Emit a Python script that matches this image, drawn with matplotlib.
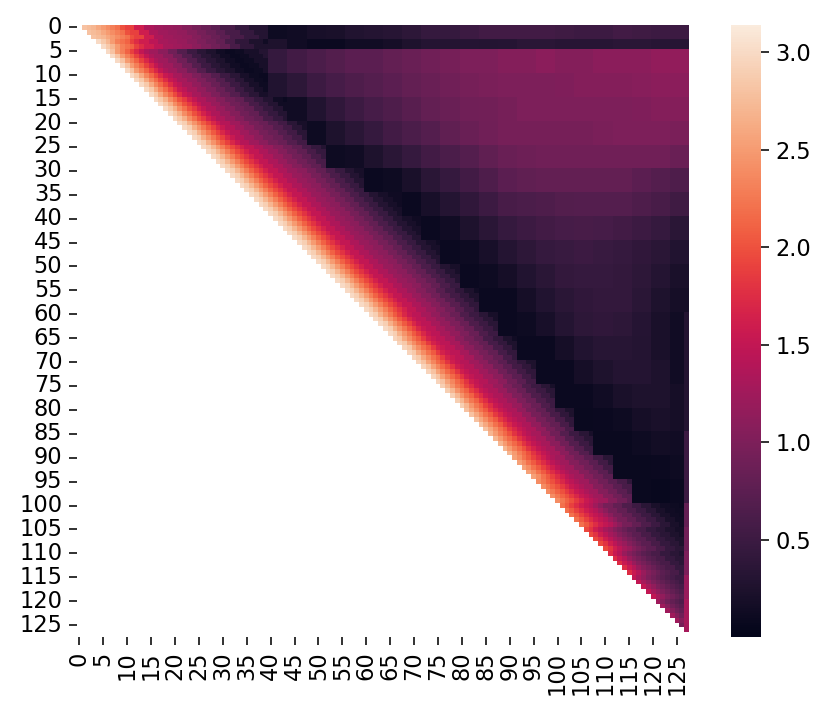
import numpy as np
import matplotlib
matplotlib.use("Agg")
import matplotlib.pyplot as plt
import seaborn as sns

N_CELLS = 128
VMIN = 0.003
VMAX = 3.14

# Colour readings from the picture, in blocks of cells.
# band_rows: first row of each block of rows.
band_rows = [0, 3, 5, 10, 15, 20, 25, 30, 35, 40, 45, 50, 55, 60, 65, 70, 75, 80, 85, 90, 95, 100, 105, 110, 115, 120, 125]

# Near the diagonal: one reading per (column - row) distance band.
band_offsets = [1, 2, 3, 4, 5, 6, 7, 8, 9, 10, 12, 14, 16, 18, 20, 22, 24, 26, 28, 30, 33, 36]
near_readings = [
    [2.8, 2.75, 2.7, 2.6, 2.5, 2.4, 2.3, 2.2, 2.0, 1.9, 1.6, 1.35, 1.25, 1.2, 1.15, 1.05, 0.95, 0.85, 0.75, 0.6, 0.45, 0.3],
    [3.0, 2.85, 2.7, 2.5, 2.3, 2.2, 2.1, 1.9, 1.75, 1.6, 1.45, 1.3, 1.25, 1.2, 1.1, 1.0, 0.9, 0.8, 0.6, 0.4, 0.25, 0.15],
    [3.0, 2.8, 2.5, 2.3, 2.1, 1.9, 1.7, 1.5, 1.35, 1.25, 1.1, 0.9, 0.7, 0.5, 0.35, 0.25, 0.15, 0.1, 0.12, 0.2, 0.3, 0.35],
    [3.0, 2.85, 2.6, 2.35, 2.15, 1.95, 1.75, 1.55, 1.45, 1.3, 1.15, 1.0, 0.85, 0.7, 0.5, 0.35, 0.2, 0.12, 0.1, 0.1, 0.2, 0.3],
    [3.0, 2.85, 2.65, 2.4, 2.2, 2.0, 1.85, 1.65, 1.5, 1.35, 1.2, 1.05, 0.9, 0.8, 0.6, 0.45, 0.3, 0.15, 0.1, 0.12, 0.2, 0.3],
    [3.0, 2.9, 2.65, 2.45, 2.25, 2.05, 1.9, 1.7, 1.55, 1.4, 1.25, 1.1, 0.95, 0.85, 0.7, 0.55, 0.35, 0.2, 0.1, 0.12, 0.2, 0.3],
    [3.0, 2.9, 2.7, 2.5, 2.3, 2.1, 1.95, 1.8, 1.65, 1.5, 1.35, 1.2, 1.05, 0.92, 0.78, 0.6, 0.45, 0.3, 0.18, 0.1, 0.12, 0.2],
    [3.0, 2.9, 2.7, 2.5, 2.3, 2.1, 1.95, 1.8, 1.65, 1.5, 1.35, 1.2, 1.1, 0.95, 0.8, 0.62, 0.47, 0.3, 0.2, 0.12, 0.1, 0.15],
    [3.0, 2.9, 2.7, 2.5, 2.3, 2.1, 1.95, 1.8, 1.65, 1.5, 1.35, 1.2, 1.1, 0.95, 0.8, 0.62, 0.47, 0.3, 0.2, 0.13, 0.1, 0.12],
    [3.0, 2.9, 2.7, 2.5, 2.3, 2.1, 1.95, 1.8, 1.65, 1.5, 1.35, 1.2, 1.1, 0.95, 0.8, 0.62, 0.47, 0.3, 0.2, 0.13, 0.1, 0.12],
    [3.0, 2.9, 2.7, 2.5, 2.3, 2.1, 1.95, 1.8, 1.65, 1.5, 1.35, 1.2, 1.1, 0.95, 0.8, 0.62, 0.47, 0.3, 0.2, 0.13, 0.1, 0.12],
    [3.0, 2.9, 2.7, 2.5, 2.3, 2.1, 1.95, 1.8, 1.65, 1.5, 1.35, 1.2, 1.1, 0.95, 0.8, 0.62, 0.47, 0.3, 0.2, 0.12, 0.1, 0.12],
    [3.0, 2.9, 2.7, 2.5, 2.3, 2.1, 1.95, 1.8, 1.65, 1.5, 1.35, 1.2, 1.05, 0.9, 0.72, 0.55, 0.4, 0.25, 0.15, 0.1, 0.1, 0.12],
    [3.0, 2.9, 2.65, 2.45, 2.25, 2.05, 1.9, 1.7, 1.55, 1.45, 1.3, 1.15, 1.0, 0.85, 0.65, 0.5, 0.35, 0.2, 0.12, 0.1, 0.1, 0.12],
    [2.95, 2.85, 2.6, 2.4, 2.2, 2.05, 1.85, 1.65, 1.55, 1.45, 1.3, 1.1, 0.95, 0.8, 0.58, 0.42, 0.25, 0.15, 0.1, 0.1, 0.1, 0.12],
    [2.95, 2.8, 2.55, 2.35, 2.15, 2.0, 1.8, 1.6, 1.5, 1.4, 1.25, 1.1, 0.9, 0.75, 0.55, 0.4, 0.25, 0.15, 0.1, 0.1, 0.1, 0.1],
    [2.9, 2.7, 2.45, 2.25, 2.1, 1.9, 1.75, 1.55, 1.45, 1.35, 1.2, 1.0, 0.85, 0.65, 0.5, 0.35, 0.2, 0.12, 0.1, 0.1, 0.1, 0.1],
    [2.8, 2.6, 2.4, 2.2, 2.05, 1.85, 1.7, 1.55, 1.45, 1.35, 1.15, 0.95, 0.8, 0.6, 0.4, 0.25, 0.15, 0.1, 0.1, 0.1, 0.1, 0.1],
    [2.7, 2.5, 2.3, 2.15, 2.0, 1.8, 1.65, 1.5, 1.4, 1.3, 1.1, 0.9, 0.7, 0.5, 0.35, 0.2, 0.12, 0.1, 0.08, 0.08, 0.1, 0.1],
    [2.55, 2.4, 2.2, 2.05, 1.9, 1.75, 1.6, 1.45, 1.35, 1.25, 1.05, 0.9, 0.75, 0.55, 0.35, 0.2, 0.12, 0.1, 0.08, 0.08, 0.1, 0.1],
    [2.4, 2.25, 2.1, 2.0, 1.85, 1.7, 1.55, 1.45, 1.35, 1.25, 1.05, 0.9, 0.75, 0.6, 0.4, 0.25, 0.12, 0.1, 0.08, 0.08, 0.08],
    [2.2, 2.05, 1.9, 1.75, 1.6, 1.5, 1.4, 1.25, 1.1, 0.95, 0.8, 0.65, 0.5, 0.35, 0.22, 0.15, 0.12, 0.1],
    [1.95, 1.8, 1.6, 1.45, 1.3, 1.2, 1.05, 0.95, 0.85, 0.75, 0.6, 0.45, 0.35, 0.25, 0.18, 0.12, 0.1],
    [1.75, 1.55, 1.4, 1.2, 1.05, 0.95, 0.85, 0.75, 0.68, 0.6, 0.45, 0.35, 0.28, 0.22, 0.18, 0.15],
    [1.5, 1.3, 1.15, 1.0, 0.9, 0.8, 0.72, 0.65, 0.58, 0.5, 0.38, 0.3],
    [1.25, 1.05, 0.9, 0.8, 0.72, 0.65, 0.6],
    [0.95, 0.8],
]

# Away from the diagonal: readings in blocks of four columns, running
# from far_first_col (per block of rows) to the right edge.
FAR_COL_STEP = 4
far_first_col = [40, 40, 40, 40, 44, 48, 52, 60, 68, 72, 76, 80, 84, 88, 92, 96, 100, 104, 108, 112, 116]
far_readings = [
    [0.12, 0.15, 0.2, 0.22, 0.28, 0.3, 0.33, 0.38, 0.45, 0.45, 0.5, 0.55, 0.55, 0.55, 0.55, 0.52, 0.5, 0.5, 0.55, 0.52, 0.5, 0.5],
    [0.25, 0.15, 0.1, 0.1, 0.15, 0.15, 0.18, 0.25, 0.3, 0.3, 0.32, 0.3, 0.32, 0.35, 0.35, 0.33, 0.33, 0.33, 0.35, 0.35, 0.33, 0.33],
    [0.45, 0.55, 0.62, 0.68, 0.75, 0.75, 0.8, 0.85, 0.9, 0.95, 1.0, 1.0, 1.05, 1.05, 1.1, 1.05, 1.05, 1.1, 1.1, 1.1, 1.15, 1.15],
    [0.28, 0.38, 0.5, 0.58, 0.65, 0.7, 0.75, 0.8, 0.85, 0.9, 0.95, 0.98, 1.0, 1.0, 1.0, 1.02, 1.05, 1.05, 1.05, 1.08, 1.1, 1.1],
    [0.15, 0.28, 0.4, 0.5, 0.58, 0.65, 0.72, 0.8, 0.85, 0.9, 0.92, 0.95, 1.0, 1.0, 1.0, 1.0, 1.0, 1.0, 1.02, 1.05, 1.05],
    [0.12, 0.25, 0.35, 0.45, 0.55, 0.62, 0.7, 0.78, 0.85, 0.9, 0.95, 0.95, 0.95, 0.95, 0.95, 0.98, 1.0, 1.0, 1.0, 0.98],
    [0.12, 0.15, 0.25, 0.35, 0.45, 0.55, 0.62, 0.7, 0.78, 0.85, 0.88, 0.9, 0.9, 0.9, 0.9, 0.9, 0.9, 0.9, 0.85],
    [0.1, 0.12, 0.22, 0.35, 0.45, 0.55, 0.65, 0.75, 0.78, 0.8, 0.8, 0.8, 0.8, 0.8, 0.75, 0.7, 0.65],
    [0.1, 0.2, 0.3, 0.4, 0.5, 0.6, 0.62, 0.65, 0.68, 0.7, 0.7, 0.7, 0.65, 0.6, 0.52],
    [0.1, 0.15, 0.25, 0.35, 0.45, 0.5, 0.55, 0.58, 0.6, 0.58, 0.55, 0.5, 0.45, 0.35],
    [0.1, 0.12, 0.2, 0.3, 0.38, 0.45, 0.48, 0.5, 0.48, 0.45, 0.4, 0.35, 0.28],
    [0.1, 0.12, 0.18, 0.28, 0.35, 0.42, 0.45, 0.45, 0.42, 0.38, 0.3, 0.22],
    [0.1, 0.1, 0.18, 0.28, 0.35, 0.4, 0.42, 0.42, 0.35, 0.25, 0.18],
    [0.1, 0.12, 0.2, 0.3, 0.38, 0.4, 0.38, 0.32, 0.22, 0.15],
    [0.1, 0.1, 0.18, 0.28, 0.33, 0.33, 0.3, 0.22, 0.15],
    [0.1, 0.1, 0.18, 0.26, 0.3, 0.3, 0.25, 0.15],
    [0.1, 0.1, 0.15, 0.22, 0.25, 0.25, 0.18],
    [0.08, 0.1, 0.12, 0.18, 0.22, 0.18],
    [0.08, 0.08, 0.12, 0.16, 0.15],
    [0.08, 0.08, 0.1, 0.12],
    [0.08, 0.07, 0.1],
]

# The brighter last column, read separately.
last_col_rows = [60, 85, 100, 105, 110, 115, 120]
last_col_values = [0.3, 0.5, 0.8, 0.9, 1.0, 1.2, 1.3]

values = np.full((N_CELLS, N_CELLS), np.nan)
for row in range(N_CELLS):
    band = np.searchsorted(band_rows, row, side="right") - 1
    near = near_readings[band]
    for col in range(row + 1, N_CELLS):
        idx = np.searchsorted(band_offsets, col - row, side="right") - 1
        value = near[min(idx, len(near) - 1)]
        if band < len(far_readings) and col >= far_first_col[band]:
            value = far_readings[band][(col - far_first_col[band]) // FAR_COL_STEP]
        values[row, col] = value
    if last_col_rows[0] <= row < N_CELLS - 1:
        values[row, N_CELLS - 1] = last_col_values[
            np.searchsorted(last_col_rows, row, side="right") - 1
        ]

W, H, DPI = 830, 714, 141
fig = plt.figure(figsize=(W / DPI, H / DPI), dpi=DPI)
ax = fig.add_axes([77 / W, 1 - 637 / H, 612 / W, 612 / H])
cax = fig.add_axes([730.5 / W, 1 - 637 / H, 30 / W, 612 / H])

sns.heatmap(
    values,
    mask=np.isnan(values),
    vmin=VMIN,
    vmax=VMAX,
    cmap="rocket",
    xticklabels=5,
    yticklabels=5,
    ax=ax,
    cbar_ax=cax,
)
ax.tick_params(axis="x", labelrotation=90, labelsize=11.5, length=4)
ax.tick_params(axis="y", labelrotation=0, labelsize=11.5, length=4)
cax.set_yticks([0.5, 1.0, 1.5, 2.0, 2.5, 3.0])
cax.tick_params(labelsize=11.5, length=4)

fig.savefig("out.png", dpi=DPI)
